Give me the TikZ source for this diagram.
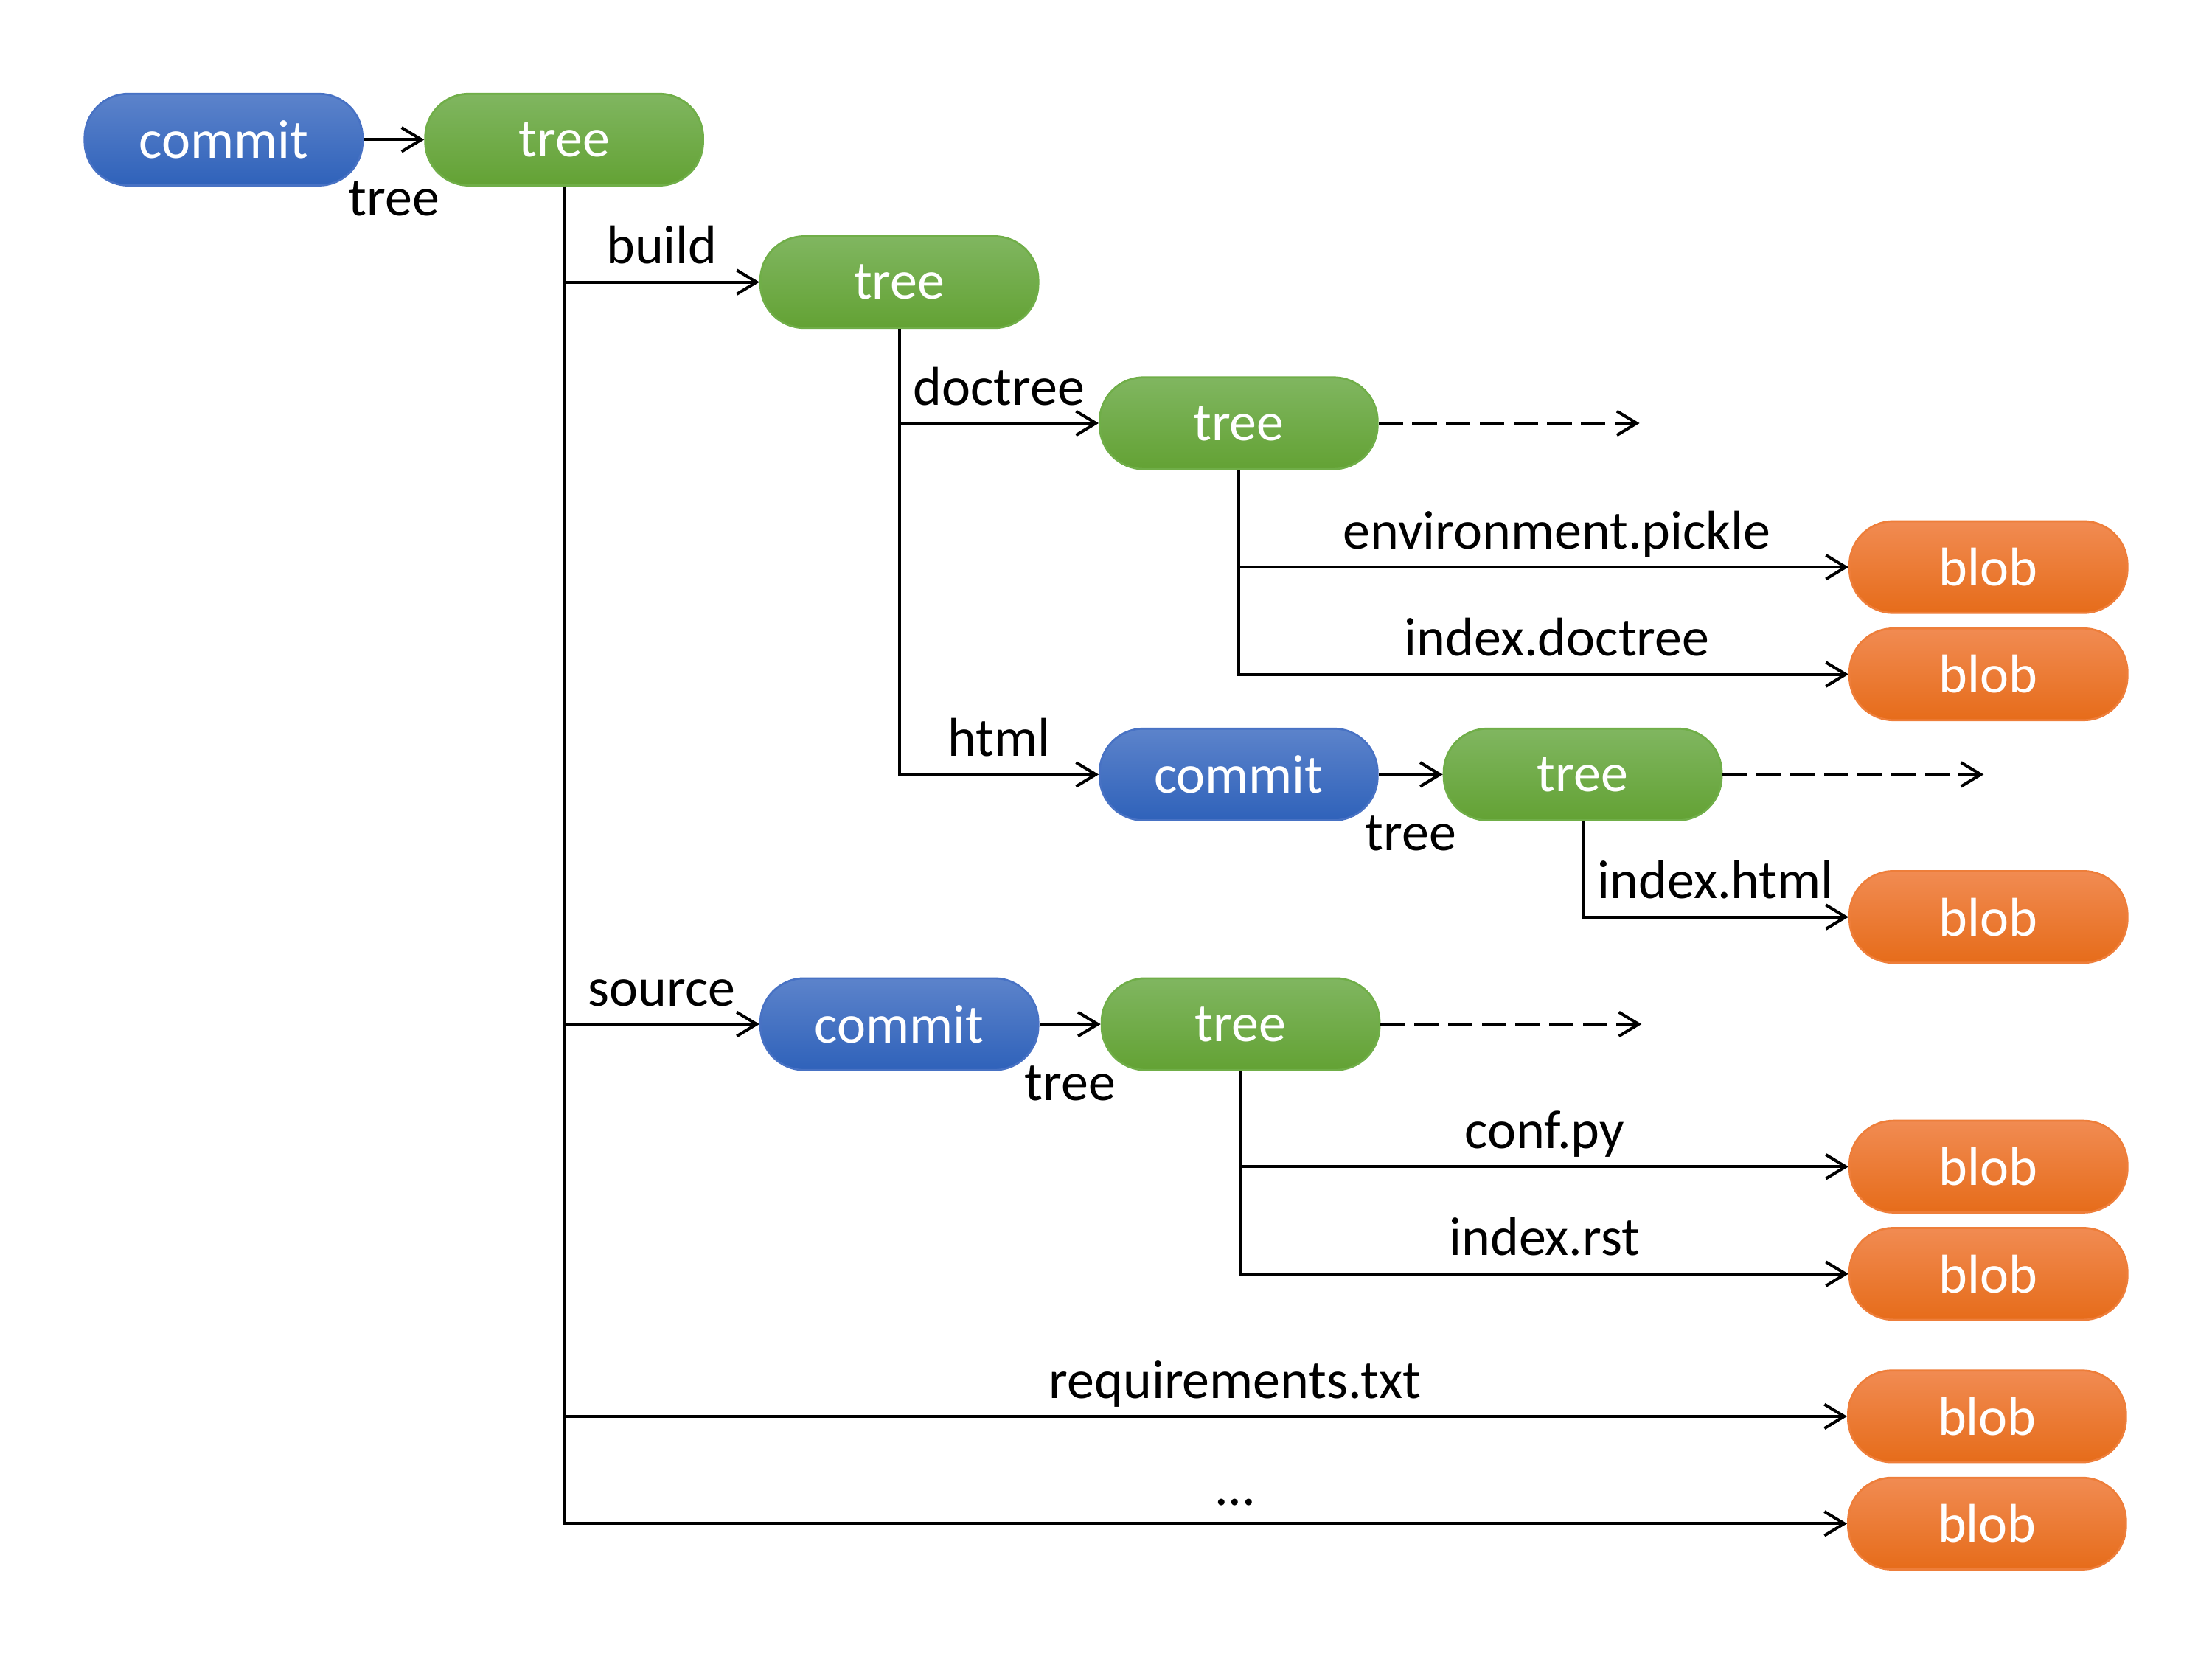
\documentclass[tikz,border=0pt]{standalone}
\usepackage{fontspec}
\setmainfont{Carlito}
\usepackage{tikz}
\usetikzlibrary{positioning}
\usetikzlibrary{arrows.meta}
\definecolor{committop}{RGB}{92,131,203}
\definecolor{commitbot}{RGB}{47,98,186}
\definecolor{commitline}{RGB}{72,114,196}
\definecolor{treetop}{RGB}{128,182,96}
\definecolor{treebot}{RGB}{99,162,52}
\definecolor{treeline}{RGB}{112,174,72}
\definecolor{blobtop}{RGB}{241,139,82}
\definecolor{blobbot}{RGB}{230,108,26}
\definecolor{blobline}{RGB}{238,126,58}
\tikzset{
obj/.style={rectangle,rounded corners=0.31cm,draw,line width=0.4pt,align=center,inner sep=0cm,minimum width=1.97cm,minimum height=0.65cm,text=white,anchor=center},
commitnode/.style={obj,draw=commitline,top color=committop,bottom color=commitbot},
treenode/.style={obj,draw=treeline,top color=treetop,bottom color=treebot},
blobnode/.style={obj,draw=blobline,top color=blobtop,bottom color=blobbot},
line/.style={black,line width=0.6pt},
lbl/.style={anchor=base,yshift=1.3mm,inner sep=0cm},
sublbl/.style={anchor=base,yshift=-5.4mm,inner sep=0cm},
dashline/.style={line,->,dash pattern=on 1.74mm off 0.65mm},
>={Straight Barb[length=1.4mm,width=1.7mm]}
}

\begin{document}
\begin{tikzpicture}[font=\fontsize{11}{13}\selectfont]
    \useasboundingbox (0,0) rectangle (15.68,-11.76);
    {
      \node[commitnode](c0) at (1.585,-0.99) {commit};
      \node[treenode, right=0.43cm of c0](t0) {tree};
      \node[treenode](t1) at (6.375,-2.00) {tree};
      \node[treenode](t2) at (8.78,-3.00) {tree};
      \node[blobnode](b1) at (14.095,-4.02) {blob};
      \node[blobnode](b2) at (14.095,-4.78) {blob};
      \node[commitnode](c1) at (8.78,-5.49) {commit};
      \node[treenode, right=0.455cm of c1](t3) {tree};
      \node[blobnode](b3) at (14.095,-6.50) {blob};
      \node[commitnode](c2) at (6.375,-7.26) {commit};
      \node[treenode, right=0.435cm of c2](t4) {tree};
      \node[blobnode](b4) at (14.095,-8.27) {blob};
      \node[blobnode](b5) at (14.095,-9.03) {blob};
      \node[blobnode](b6) at (14.085,-10.04) {blob};
      \node[blobnode](b7) at (14.085,-10.80) {blob};
      \coordinate[right=1.85cm of t2](d1);
      \coordinate[right=1.85cm of t3](d2);
      \coordinate[right=1.85cm of t4](d3);
      %
      \foreach \u / \v in {c0/t0,c1/t3,c2/t4}
      \draw[line,->] (\u) -- node[sublbl,midway]{tree} (\v);
      \foreach \u / \v / \l / \p in {t0/t1/build/0.75,t1/t2/doctree/0.75,t2/b1/environment.pickle/0.761,t2/b2/index.doctree/0.761,t1/c1/html/0.75,t3/b3/index.html/0.75,t0/c2/source/0.75,t4/b4/conf.py/0.75,t4/b5/index.rst/0.75}
      \draw[line,->] (\u.south) |- node[lbl,pos=\p]{\l} (\v);
      \draw[line,->] (t0.south) |- node[lbl,pos=0.7615]{requirements.txt} (b6);
      \draw[line,->] (t0.south) |- node[lbl,pos=0.7615]{...} (b7);
      \foreach \u / \v in {t2/d1,t3/d2,t4/d3}
      \draw[dashline] (\u) -- (\v);
    }
  \end{tikzpicture}
\end{document}
